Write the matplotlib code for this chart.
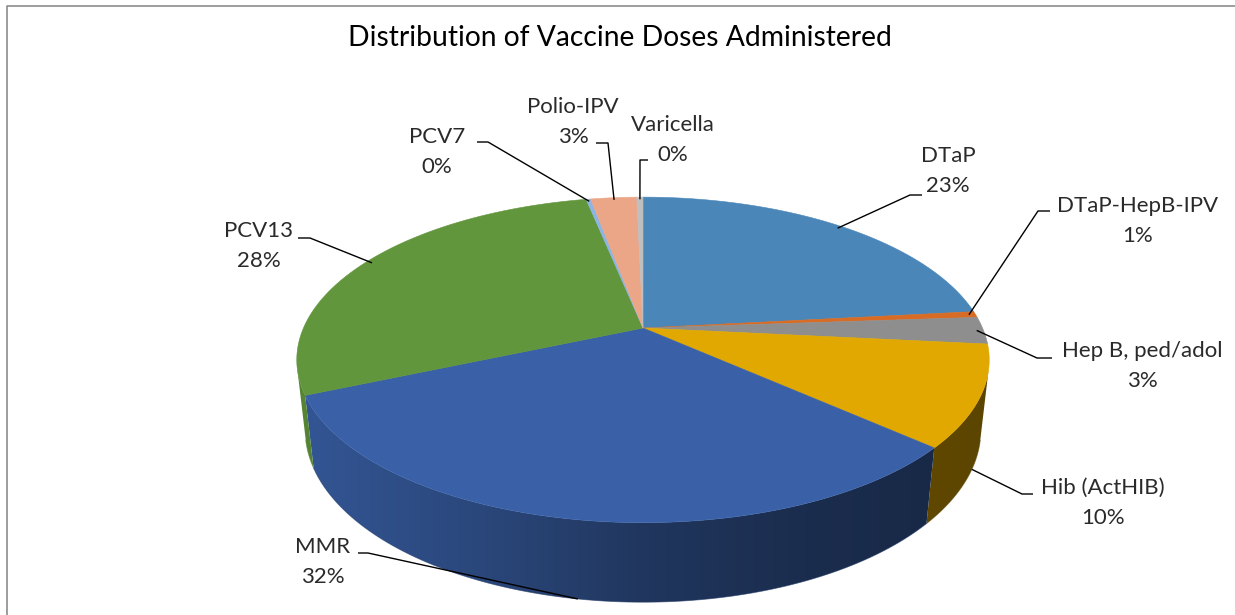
import numpy as np
import matplotlib
matplotlib.use('Agg')
import matplotlib.pyplot as plt
from matplotlib.collections import PolyCollection
from matplotlib.patches import Polygon
from matplotlib.colors import to_rgb

plt.rcParams['font.family'] = ['Lato', 'DejaVu Sans']

# ---------------- data ----------------
categories = ['DTaP', 'DTaP-HepB-IPV', 'Hep B, ped/adol', 'Hib (ActHIB)', 'MMR',
              'PCV13', 'PCV7', 'Polio-IPV', 'Varicella']
values = [23.3, 0.6, 2.7, 10.0, 31.9, 28.3, 0.25, 2.6, 0.35]
colors = ['#4A86B8', '#D86C24', '#8E8E8E', '#E0A800', '#3A61A8',
          '#62963C', '#8DB4E2', '#EBA688', '#BFBFBF']
title = 'Distribution of Vaccine Doses Administered'

# ---------------- label layout (pixels) ----------------
label_pos = [(948, 171), (1138, 221), (1142, 366), (1103, 503), (323, 562),
             (259, 246), (437, 152), (573, 122), (673, 140)]
elbow = [(910, 195), (1038, 211), (1037, 358), (1022, 494), (368, 553),
         (310, 238), (488, 142), (608, 143), (640, 160)]
hook_end = [922, 1050, 1052, 1033, 358, 298, 477, 596, 648]

W, H = 1235, 615
fig = plt.figure(figsize=(W / 100, H / 100), dpi=100)
ax = fig.add_axes([0, 0, 1, 1])
ax.set_xlim(0, W)
ax.set_ylim(H, 0)
ax.axis('off')

# ---------------- 3D perspective geometry ----------------
cx, cy = 643, 328
F = 1538.0
Dcam = 4.53
s = 0.461
c = np.sqrt(1 - s * s)
depth = 0.234


def proj(phi, z, r=1.0):
    x = r * np.cos(phi)
    y = r * np.sin(phi)
    yy = y * s + z * c
    dd = y * c - z * s
    k = F / (Dcam + dd)
    return cx + x * k, cy - yy * k


def shade(cosphi):
    return np.interp(cosphi, [-1, -0.5, 0, 0.5, 1], [0.88, 0.74, 0.56, 0.46, 0.41])


vals = np.array(values, dtype=float)
frac = vals / vals.sum()
cum = np.concatenate([[0], np.cumsum(frac)])
phi0 = np.pi / 2 - 2 * np.pi * cum[:-1]
phi1 = np.pi / 2 - 2 * np.pi * cum[1:]
vis_lim = -1.0 / (Dcam * c)
a_vis = -np.arcsin(vis_lim)          # positive
front_lo, front_hi = -np.pi + a_vis, -a_vis

Rx = F / Dcam
xcol = np.arange(W) + 0.5
cos_est = np.clip((xcol - cx) / Rx, -1, 1)
sh = shade(cos_est)

top_polys, top_cols = [], []
for i in range(len(vals)):
    n = max(3, int(np.ceil(abs(phi1[i] - phi0[i]) / np.radians(0.5))) + 1)
    ph = np.linspace(phi0[i], phi1[i], n)
    xs, ys = proj(ph, 0)
    top_polys.append([(cx, cy)] + list(zip(xs, ys)))
    top_cols.append(colors[i])

    lo, hi = max(phi1[i], front_lo), min(phi0[i], front_hi)
    if lo < hi:
        m = max(3, int(np.ceil((hi - lo) / np.radians(0.5))) + 1)
        pw = np.linspace(hi, lo, m)
        tx, ty = proj(pw, 0)
        bx, by = proj(pw[::-1], -depth)
        pts = list(zip(tx, ty)) + list(zip(bx, by))
        base = np.array(to_rgb(colors[i]))
        grad = (sh[:, None] * base[None, :])[None, :, :]
        poly = Polygon(pts, closed=True, facecolor='none', edgecolor='none')
        ax.add_patch(poly)
        im = ax.imshow(grad, extent=[0, W, H, 0], aspect='auto', zorder=2,
                       interpolation='bilinear')
        im.set_clip_path(poly)
        # soft outline along the lower edge to smooth the silhouette
        ax.plot(bx, by, color=tuple(base * shade(np.cos(0.5 * (lo + hi)))), lw=0.6,
                alpha=0.6, zorder=2.1)

ax.add_collection(PolyCollection(top_polys, facecolors=top_cols, edgecolors=top_cols,
                                 linewidths=0.4, zorder=3))
ax.set_xlim(0, W)
ax.set_ylim(H, 0)

# ---------------- labels ----------------
for i, name in enumerate(categories):
    mid = 0.5 * (phi0[i] + phi1[i])
    if np.sin(mid) < vis_lim:
        axx, ayy = proj(mid, -depth)
    else:
        axx, ayy = proj(mid, 0, 0.98)
    ex, ey = elbow[i]
    ax.plot([axx, ex, hook_end[i]], [ayy, ey, ey], color='black', lw=1.0, zorder=4,
            solid_capstyle='butt')
    pct = int(frac[i] * 100 + 0.5)
    ax.text(label_pos[i][0], label_pos[i][1], f'{name}\n{pct}%', ha='center', va='center',
            fontsize=16, color='#2A2A2A', linespacing=1.6, zorder=5)

ax.text(620, 38, title, ha='center', va='center', fontsize=20.3, color='black')

# chart border (left and top edges visible)
ax.plot([7, 7, W + 5], [H + 5, 6, 6], color='#8C8C8C', lw=1.2, zorder=1)

fig.savefig('out.png', dpi=100)
